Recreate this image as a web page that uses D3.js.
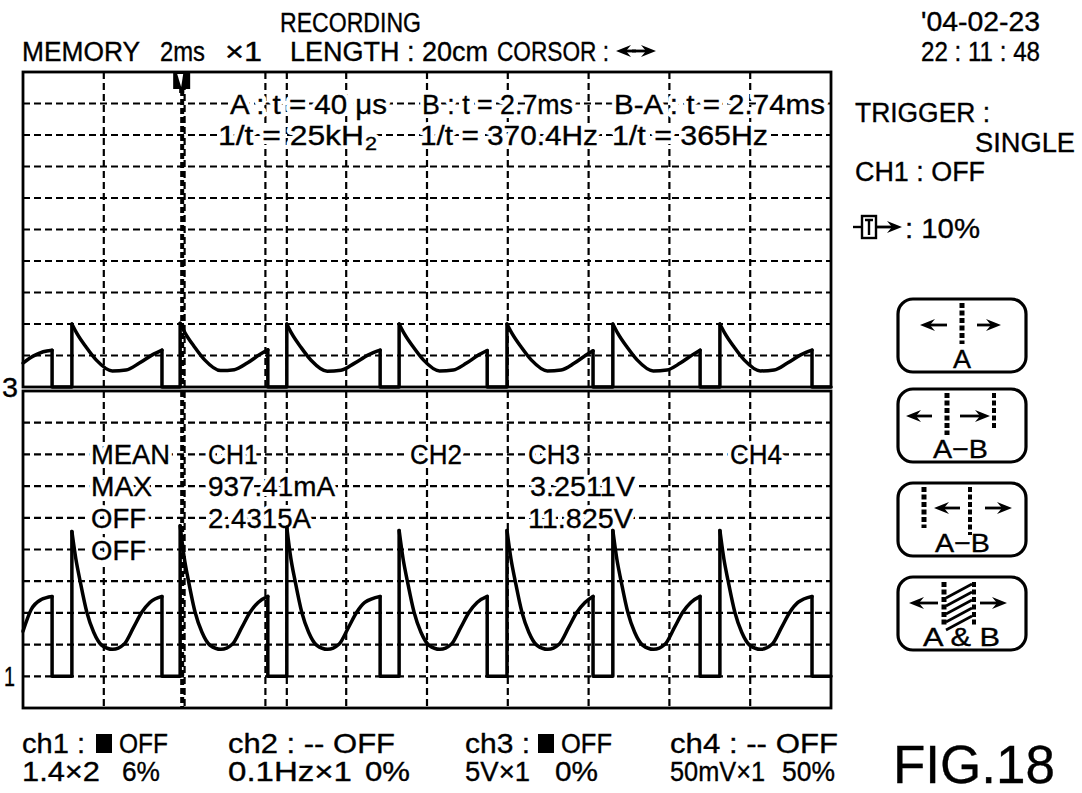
<!DOCTYPE html>
<html><head><meta charset="utf-8">
<script src="https://cdn.jsdelivr.net/npm/d3@7"></script>
<style>
body{margin:0;background:#fff}
svg text{font-family:"Liberation Sans",Arial,sans-serif}
</style>
</head><body>
<svg id="c" width="1082" height="793"></svg>
<script>
// ---------------- DATA ----------------
const timeDomainMs = [0, 20];          // 2 ms / div, 10 divisions
const divTicksTop = [1,2,3,4,5,6,7,8,9];
const divTicksBottom = [0,1,2,3,4,5,6,7,8];
const cursorA = 3.94, cursorB = 6.53;   // ms

// CH3 (upper trace, divisions above level "3")
const ch3Segments = [
  [[0,0.76],[0.25,0.98],[0.5,1.12],[0.72,1.17]],
  [[1.21,2.0],[1.33,1.71],[1.56,1.27],[1.81,0.86],[2.21,0.51],[2.55,0.54],[2.88,0.76],[3.20,1.02],[3.44,1.17]],
  [[3.89,2.02],[4.01,1.72],[4.24,1.28],[4.49,0.87],[4.89,0.52],[5.23,0.55],[5.56,0.77],[5.86,1.03],[6.06,1.18]],
  [[6.53,2.0],[6.65,1.70],[6.88,1.26],[7.13,0.85],[7.53,0.50],[7.87,0.53],[8.20,0.75],[8.55,1.02],[8.84,1.17]],
  [[9.31,2.0],[9.43,1.71],[9.66,1.27],[9.91,0.86],[10.31,0.51],[10.65,0.54],[10.98,0.76],[11.28,1.02],[11.49,1.16]],
  [[11.98,2.0],[12.10,1.71],[12.33,1.27],[12.58,0.86],[12.98,0.51],[13.32,0.54],[13.65,0.76],[13.92,1.0],[14.11,1.15]],
  [[14.60,2.0],[14.72,1.71],[14.95,1.27],[15.20,0.86],[15.60,0.51],[15.94,0.54],[16.27,0.76],[16.57,1.02],[16.76,1.17]],
  [[17.25,2.0],[17.37,1.71],[17.60,1.27],[17.85,0.86],[18.25,0.51],[18.59,0.54],[18.92,0.76],[19.25,1.02],[19.53,1.17]]
];
// CH1 (lower trace, divisions above level "1")
const ch1Segments = [
  [[0,1.42],[0.2,2.1],[0.45,2.42],[0.72,2.52]],
  [[1.21,4.57],[1.31,3.69],[1.41,3.03],[1.58,2.02],[1.75,1.39],[1.95,0.98],[2.22,0.85],[2.50,1.01],[2.74,1.55],[2.94,2.02],[3.14,2.33],[3.44,2.52]],
  [[3.89,4.75],[3.99,3.75],[4.09,3.05],[4.26,2.02],[4.43,1.39],[4.63,0.98],[4.90,0.85],[5.18,1.01],[5.42,1.55],[5.62,2.02],[5.82,2.33],[6.06,2.52]],
  [[6.53,4.7],[6.63,3.72],[6.73,3.04],[6.90,2.02],[7.07,1.39],[7.27,0.98],[7.54,0.85],[7.82,1.01],[8.06,1.55],[8.26,2.02],[8.46,2.33],[8.84,2.52]],
  [[9.31,4.6],[9.41,3.69],[9.51,3.03],[9.68,2.02],[9.85,1.39],[10.05,0.98],[10.32,0.85],[10.60,1.01],[10.84,1.55],[11.04,2.02],[11.24,2.33],[11.49,2.52]],
  [[11.98,4.6],[12.08,3.69],[12.18,3.03],[12.35,2.02],[12.52,1.39],[12.72,0.98],[12.99,0.85],[13.27,1.01],[13.51,1.55],[13.71,2.02],[13.91,2.33],[14.11,2.52]],
  [[14.60,4.6],[14.70,3.69],[14.80,3.03],[14.97,2.02],[15.14,1.39],[15.34,0.98],[15.61,0.85],[15.89,1.01],[16.13,1.55],[16.33,2.02],[16.53,2.33],[16.76,2.52]],
  [[17.25,4.6],[17.35,3.69],[17.45,3.03],[17.62,2.02],[17.79,1.39],[17.99,0.98],[18.26,0.85],[18.54,1.01],[18.78,1.55],[18.98,2.02],[19.18,2.33],[19.53,2.52]]
];

const headerTitle = "RECORDING";
const headerItems = ["MEMORY","2ms","×1","LENGTH : 20cm","CORSOR :"];
const dateLines = ["'04-02-23","22 : 11 : 48"];
const cursorRow1 = ["A : t = 40 μs","B : t = 2.7ms","B-A : t = 2.74ms"];
const cursorRow2 = ["1/t = 25kH","1/t = 370.4Hz","1/t = 365Hz"];
const subscript2 = "2";
const measLabels = ["MEAN","MAX","OFF","OFF"];
const chanHeads = ["CH1","CH2","CH3","CH4"];
const ch1Vals = ["937.41mA","2.4315A"];
const ch3Vals = ["3.2511V","11.825V"];
const legendTop = ["ch1 :","OFF","ch2 : -- OFF","ch3 :","OFF","ch4 : -- OFF"];
const legendBottom = [["1.4×2","6%"],["0.1Hz×1","0%"],["5V×1","0%"],["50mV×1","50%"]];
const sideText = ["TRIGGER :","SINGLE","CH1 : OFF",": 10%"];
const buttonLabels = ["A","A−B","A−B","A & B"];
const levelLabels = ["3","1"];
const figLabel = "FIG.18";

// ---------------- LAYOUT ----------------
const svg = d3.select("#c");
const L = 23, R = 831;
const topY0 = 72, topY1 = 387, botY0 = 391, botY1 = 708;
const x = d3.scaleLinear().domain(timeDomainMs).range([L, R]);
const yTop = d3.scaleLinear().domain([0,10]).range([topY1, topY0]);
const yBot = d3.scaleLinear().domain([-1,9]).range([botY1, botY0]);

// text helper: [x0,x1] span -> textLength
function T(g, str, x0, x1, y, size, halo){
  if(halo){
    g.append("text").attr("x",x0).attr("y",y).attr("font-size",size)
      .attr("textLength",x1-x0).attr("lengthAdjust","spacingAndGlyphs")
      .attr("fill","#fff").attr("stroke","#fff").attr("stroke-width",8).attr("stroke-linejoin","round").text(str);
  }
  return g.append("text").attr("x",x0).attr("y",y).attr("font-size",size)
    .attr("textLength",x1-x0).attr("lengthAdjust","spacingAndGlyphs")
    .attr("fill","#000").attr("stroke","#000").attr("stroke-width",0.35).text(str);
}

const gridG = svg.append("g");
const xt = x.ticks(10).filter(t => t > 0 && t < 20);
const DASH = "7,4";
function vgrid(y0, y1){
  gridG.selectAll(null).data(xt).enter().append("line")
    .attr("x1", d=>x(d)).attr("x2", d=>x(d)).attr("y1", y0).attr("y2", y1)
    .attr("stroke","#000").attr("stroke-width",2.2).attr("stroke-dasharray",DASH);
}
vgrid(topY0, topY1); vgrid(botY0, botY1);
gridG.selectAll(null).data(divTicksTop).enter().append("line")
  .attr("x1", L).attr("x2", R).attr("y1", d=>yTop(d)).attr("y2", d=>yTop(d))
  .attr("stroke","#000").attr("stroke-width",2.2).attr("stroke-dasharray",DASH);
gridG.selectAll(null).data(divTicksBottom).enter().append("line")
  .attr("x1", L).attr("x2", R).attr("y1", d=>yBot(d)).attr("y2", d=>yBot(d))
  .attr("stroke","#000").attr("stroke-width",2.2).attr("stroke-dasharray",DASH);

// cursor B (dashed), cursor A (heavy dotted)
[[topY0,topY1],[botY0,botY1]].forEach(([a,b])=>{
  gridG.append("line").attr("x1",x(cursorB)).attr("x2",x(cursorB)).attr("y1",a).attr("y2",b)
    .attr("stroke","#000").attr("stroke-width",2.2).attr("stroke-dasharray",DASH);
  gridG.append("line").attr("x1",x(cursorA)).attr("x2",x(cursorA)).attr("y1",a).attr("y2",b)
    .attr("stroke","#000").attr("stroke-width",4).attr("stroke-dasharray","6,3");
});

// frames
svg.append("rect").attr("x",L).attr("y",topY0).attr("width",R-L).attr("height",topY1-topY0)
  .attr("fill","none").attr("stroke","#000").attr("stroke-width",2.8);
svg.append("rect").attr("x",L).attr("y",botY0).attr("width",R-L).attr("height",botY1-botY0)
  .attr("fill","none").attr("stroke","#000").attr("stroke-width",2.8);

const tg = svg.append("g");
// cursor readouts
const FS = 27;
const r1 = [[230,387],[422,573],[614,825]];
cursorRow1.forEach((t,i)=>T(tg,t,r1[i][0],r1[i][1],yTop(9)+10,FS,true));
const r2 = [[218,364],[420,598],[612,768]];
cursorRow2.forEach((t,i)=>T(tg,t,r2[i][0],r2[i][1],yTop(8)+10,FS,true));
T(tg, subscript2, 365, 377, yTop(8)+15, 19, true);
// measurement block
const measX = [[91,170],[91,152],[91,146],[91,146]];
measLabels.forEach((t,i)=>T(tg,t,measX[i][0],measX[i][1],yBot(7-i)+10,FS,true));
const chX = [[208,258],[410,462],[528,580],[730,782]];
chanHeads.forEach((t,i)=>T(tg,t,chX[i][0],chX[i][1],yBot(7)+10,FS,true));
const c1X = [[208,335],[208,311]];
ch1Vals.forEach((t,i)=>T(tg,t,c1X[i][0],c1X[i][1],yBot(6-i)+10,FS,true));
const c3X = [[530,635],[528,633]];
ch3Vals.forEach((t,i)=>T(tg,t,c3X[i][0],c3X[i][1],yBot(6-i)+10,FS,true));

// traces
const smooth = d3.line().x(d=>x(d[0])).curve(d3.curveMonotoneX);
const straight = d3.line().x(d=>x(d[0]));
function drawTrace(segs, ys){
  const g = svg.append("g").attr("fill","none").attr("stroke","#000").attr("stroke-width",3.5)
    .attr("stroke-linejoin","round").attr("stroke-linecap","round");
  smooth.y(d=>ys(d[1])); straight.y(d=>ys(d[1]));
  g.selectAll(null).data(segs).enter().append("path").attr("d", d=>smooth(d));
  const conns = segs.map((s,i)=>{
    const last = s[s.length-1];
    if(i < segs.length-1){
      const nx = segs[i+1][0];
      return [last,[last[0],0],[nx[0],0],nx];
    }
    return [last,[last[0],0],[timeDomainMs[1],0]];
  });
  g.selectAll(null).data(conns).enter().append("path").attr("d", d=>straight(d));
}
drawTrace(ch3Segments, yTop);
drawTrace(ch1Segments, yBot);

// cursor marker
const cx = x(cursorA);
svg.append("path").attr("d",`M${cx-9},${topY0} h17 v17 h-6 v4 h-5 v-4 h-6 Z`).attr("fill","#000");
svg.append("path").attr("d",`M${cx-5},${topY0+2} L${cx+1},${topY0+2} L${cx-1},${topY0+15} Z`).attr("fill","#fff");

// level labels
T(svg, levelLabels[0], 2, 18, yTop(0)+10, 28);
T(svg, levelLabels[1], 4, 15, yBot(0)+10, 28);

// header
T(svg, headerTitle, 280, 421, 32, 27);
const hx = [[22,140],[160,205],[225,262],[290,488],[497,609]];
headerItems.forEach((t,i)=>T(svg,t,hx[i][0],hx[i][1],61,27));
T(svg, dateLines[0], 921, 1040, 31, 27);
T(svg, dateLines[1], 921, 1040, 61, 27);

function arrow(g, tail, tip, y, w){
  const dir = tip > tail ? 1 : -1;
  g.append("line").attr("x1",tail).attr("x2",tip-dir*6).attr("y1",y).attr("y2",y)
    .attr("stroke","#000").attr("stroke-width",w||2.8);
  g.append("path").attr("d",`M${tip},${y} L${tip-dir*15},${y-6} L${tip-dir*10},${y} L${tip-dir*15},${y+6} Z`).attr("fill","#000");
}
// corsor symbol
arrow(svg, 636, 616, 51); arrow(svg, 632, 656, 51);

// side panel
T(svg, sideText[0], 855, 990, 122, 27);
T(svg, sideText[1], 975, 1075, 152, 27);
T(svg, sideText[2], 855, 985, 181, 27);
svg.append("line").attr("x1",853).attr("x2",862).attr("y1",227).attr("y2",227).attr("stroke","#000").attr("stroke-width",2.4);
svg.append("rect").attr("x",862).attr("y",216).attr("width",14).attr("height",22).attr("fill","none").attr("stroke","#000").attr("stroke-width",2.4);
svg.append("path").attr("d","M865,220 h8 M869,220 v15").attr("stroke","#000").attr("stroke-width",2.4);
arrow(svg, 876, 902, 227);
T(svg, sideText[3], 905, 980, 238, 27);

// buttons
const btnY = [299, 389, 483, 577];
const bg = svg.append("g");
btnY.forEach((by,i)=>{
  bg.append("rect").attr("x",898).attr("y",by).attr("width",128).attr("height",73).attr("rx",15)
    .attr("fill","none").attr("stroke","#000").attr("stroke-width",3.2);
});
T(bg, buttonLabels[0], 953, 971, 368, 26);
T(bg, buttonLabels[1], 933, 988, 458, 26);
T(bg, buttonLabels[2], 935, 990, 552, 26);
T(bg, buttonLabels[3], 923, 1000, 646, 26);
function dots(xx, y0, y1, w){
  bg.append("line").attr("x1",xx).attr("x2",xx).attr("y1",y0).attr("y2",y1)
    .attr("stroke","#000").attr("stroke-width",w).attr("stroke-dasharray","5,2.5");
}
// btn1
dots(962, 303, 344, 5); arrow(bg, 947, 920, 325); arrow(bg, 977, 1001, 325);
// btn2
dots(947, 393, 435, 5); dots(994, 393, 429, 4); arrow(bg, 932, 906, 416); arrow(bg, 960, 990, 416);
// btn3
dots(924, 487, 528, 5); dots(970, 487, 535, 4); arrow(bg, 960, 934, 508); arrow(bg, 985, 1012, 508);
// btn4
dots(944, 582, 625, 5); dots(974, 582, 625, 4);
for(let k=0;k<5;k++){
  bg.append("line").attr("x1",946).attr("x2",972).attr("y1",598+k*8).attr("y2",584+k*8)
    .attr("stroke","#000").attr("stroke-width",2.6);
}
arrow(bg, 938, 909, 603); arrow(bg, 980, 1007, 603);

// legend bottom
const lg = svg.append("g");
T(lg, legendTop[0], 22, 85, 753, 28);
lg.append("rect").attr("x",96).attr("y",734).attr("width",16).attr("height",19).attr("fill","#000");
T(lg, legendTop[1], 119, 168, 753, 28);
T(lg, legendTop[2], 228, 395, 753, 28);
T(lg, legendTop[3], 465, 530, 753, 28);
lg.append("rect").attr("x",538).attr("y",734).attr("width",16).attr("height",19).attr("fill","#000");
T(lg, legendTop[4], 561, 612, 753, 28);
T(lg, legendTop[5], 670, 838, 753, 28);
const lbx = [[[22,100],[122,160]],[[228,352],[365,410]],[[465,530],[555,598]],[[670,765],[782,835]]];
legendBottom.forEach((p,i)=>p.forEach((t,j)=>T(lg,t,lbx[i][j][0],lbx[i][j][1],781,28)));
T(svg, figLabel, 893, 1055, 783, 54);
</script>
</body></html>
